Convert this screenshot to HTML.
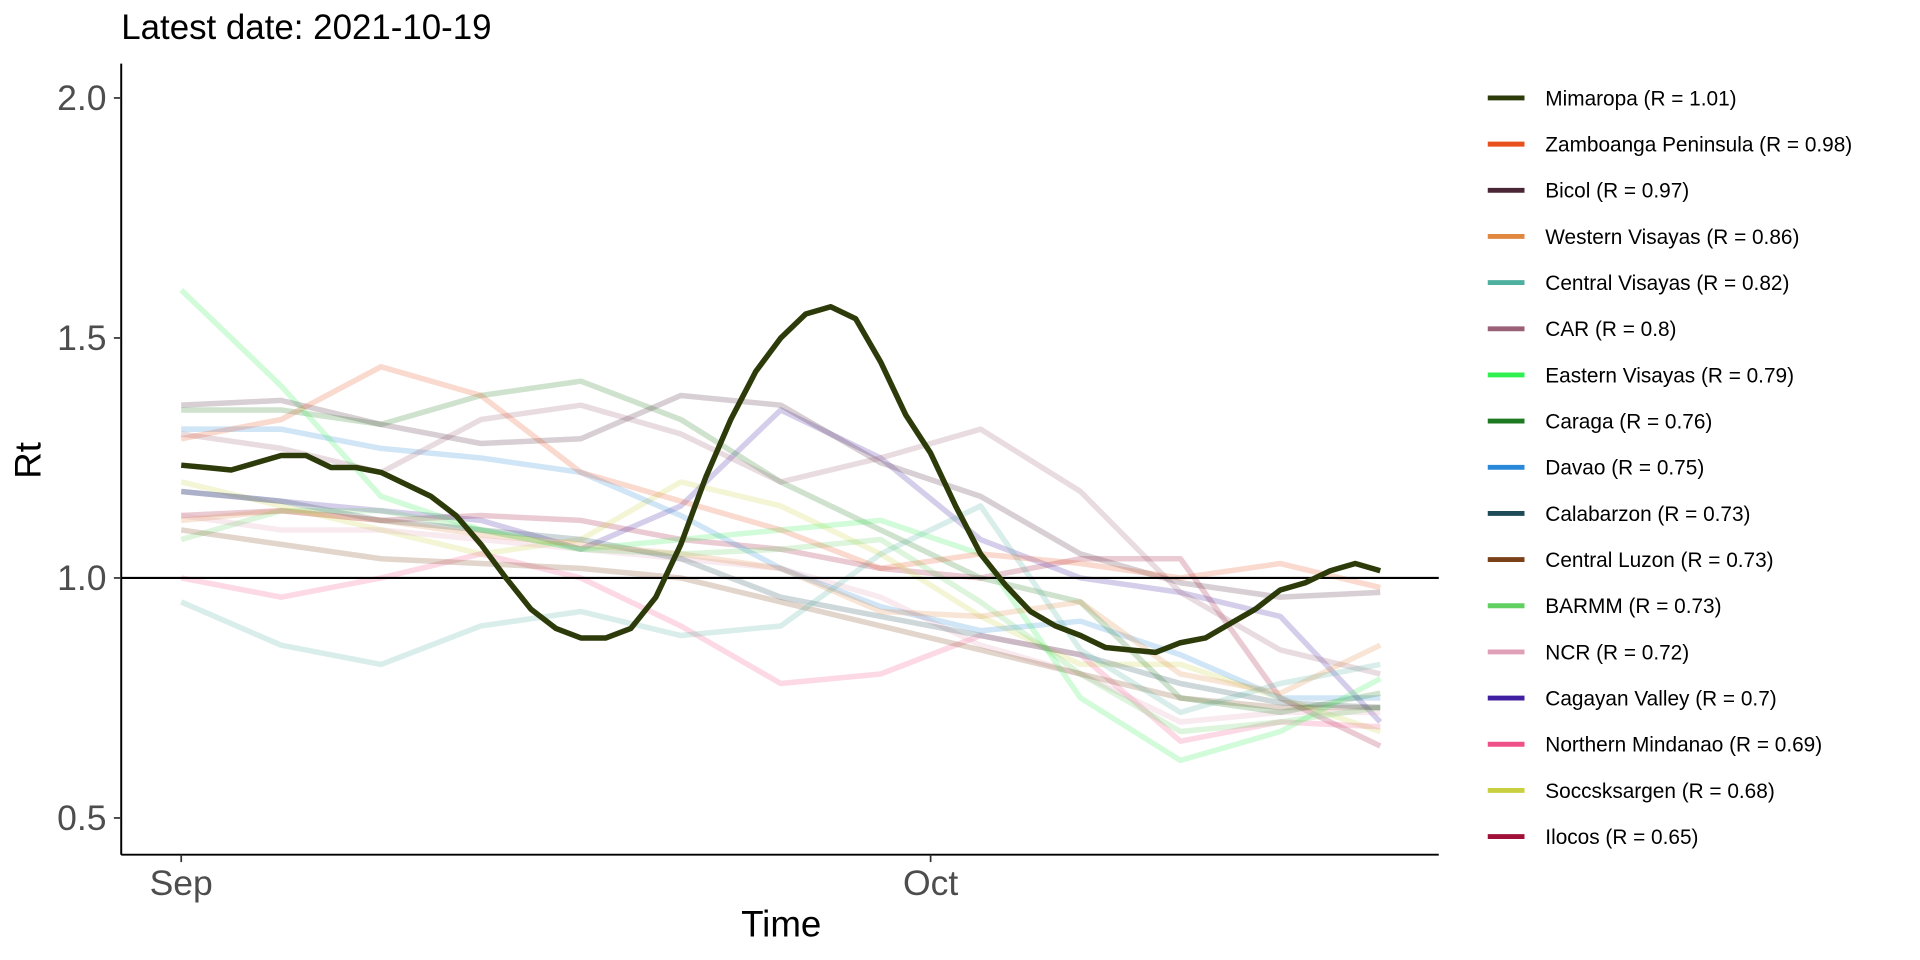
<!DOCTYPE html>
<html><head><meta charset="utf-8"><style>
html,body{margin:0;padding:0;background:#fff;}
svg{display:block;font-family:"Liberation Sans",Arial,sans-serif;}
</style></head><body>
<svg id="chart" width="1920" height="960" viewBox="0 0 1568 784" xmlns="http://www.w3.org/2000/svg">
<text x="99" y="32" font-size="28.5" fill="#000">Latest date: 2021-10-19</text>
<g id="plot"></g>
<g id="legend"></g>
</svg>
<script>
const NS="http://www.w3.org/2000/svg";
const yTicks=[0.5,1.0,1.5,2.0];
const xTickLabels=["Sep","Oct"];
const xTickDays=[0,30];
const sparseDays=[0,4,8,12,16,20,24,28,32,36,40,44,48];
const mimaropa=[1.235,1.23,1.225,1.24,1.255,1.255,1.23,1.23,1.22,1.195,1.17,1.13,1.07,1.0,0.935,0.895,0.875,0.875,0.895,0.96,1.07,1.21,1.33,1.43,1.5,1.55,1.565,1.54,1.45,1.34,1.26,1.15,1.05,0.985,0.93,0.9,0.88,0.855,0.85,0.845,0.865,0.875,0.905,0.935,0.975,0.99,1.015,1.03,1.015];
const seriesNames=["Mimaropa (R = 1.01)","Zamboanga Peninsula (R = 0.98)","Bicol (R = 0.97)","Western Visayas (R = 0.86)","Central Visayas (R = 0.82)","CAR (R = 0.8)","Eastern Visayas (R = 0.79)","Caraga (R = 0.76)","Davao (R = 0.75)","Calabarzon (R = 0.73)","Central Luzon (R = 0.73)","BARMM (R = 0.73)","NCR (R = 0.72)","Cagayan Valley (R = 0.7)","Northern Mindanao (R = 0.69)","Soccsksargen (R = 0.68)","Ilocos (R = 0.65)"];
const seriesColors=["#2d3a0a","#e8501e","#4a2535","#e08840","#50b0a0","#9a6078","#30f050","#1e7a20","#2a88d8","#1e4a58","#7a4018","#60d060","#e0a0b8","#4020a0","#f05088","#c8d040","#a01038"];
const zamboanga=[1.29,1.33,1.44,1.38,1.22,1.16,1.10,1.02,1.05,1.03,1.0,1.03,0.98];
const bicol=[1.36,1.37,1.32,1.28,1.29,1.38,1.36,1.24,1.17,1.05,0.99,0.96,0.97];
const westernVisayas=[1.12,1.14,1.12,1.09,1.07,1.05,1.02,0.93,0.92,0.95,0.80,0.76,0.86];
const centralVisayas=[0.95,0.86,0.82,0.90,0.93,0.88,0.90,1.05,1.15,0.85,0.72,0.78,0.82];
const car=[1.30,1.27,1.22,1.33,1.36,1.30,1.20,1.25,1.31,1.18,0.97,0.85,0.80];
const easternVisayas=[1.60,1.40,1.17,1.10,1.06,1.08,1.10,1.12,1.05,0.75,0.62,0.68,0.79];
const caraga=[1.35,1.35,1.32,1.38,1.41,1.33,1.20,1.10,1.00,0.95,0.75,0.72,0.76];
const davao=[1.31,1.31,1.27,1.25,1.22,1.13,1.02,0.94,0.89,0.91,0.84,0.75,0.75];
const calabarzon=[1.18,1.16,1.12,1.10,1.08,1.04,0.96,0.92,0.88,0.84,0.78,0.74,0.73];
const centralLuzon=[1.10,1.07,1.04,1.03,1.02,1.00,0.95,0.90,0.85,0.80,0.75,0.73,0.73];
const barmm=[1.08,1.14,1.14,1.10,1.06,1.05,1.06,1.08,0.95,0.80,0.68,0.70,0.73];
const ncr=[1.13,1.10,1.10,1.08,1.06,1.04,1.02,0.96,0.86,0.80,0.70,0.72,0.72];
const cagayanValley=[1.18,1.16,1.14,1.12,1.06,1.15,1.35,1.25,1.08,1.00,0.97,0.92,0.70];
const northernMindanao=[1.00,0.96,1.00,1.05,1.00,0.90,0.78,0.80,0.88,0.84,0.66,0.70,0.69];
const soccsksargen=[1.20,1.15,1.10,1.05,1.08,1.20,1.15,1.05,0.92,0.82,0.82,0.75,0.68];
const ilocos=[1.13,1.14,1.12,1.13,1.12,1.08,1.06,1.02,1.00,1.04,1.04,0.75,0.65];
const fadedSeries=[zamboanga,bicol,westernVisayas,centralVisayas,car,easternVisayas,caraga,davao,calabarzon,centralLuzon,barmm,ncr,cagayanValley,northernMindanao,soccsksargen,ilocos];

const X0=148,PXD=20.4,Y1=472,PXU=392;
const xs=d=>X0+d*PXD;
const ys=v=>Y1-(v-1)*PXU;
const plot=document.getElementById('plot');
const legend=document.getElementById('legend');
function mk(tag,attrs,parent){const e=document.createElementNS(NS,tag);for(const k in attrs)e.setAttribute(k,attrs[k]);parent.appendChild(e);return e;}

for(let i=fadedSeries.length-1;i>=0;i--){
  const vals=fadedSeries[i];
  const pts=vals.map((v,j)=>xs(sparseDays[j]).toFixed(1)+","+ys(v).toFixed(1)).join(" ");
  const pl=mk('polyline',{points:pts,fill:"none",stroke:seriesColors[i+1],"stroke-width":4.5,"stroke-opacity":0.22,"stroke-linejoin":"round"},plot);
  
  
}
const ref=mk('line',{x1:99,x2:1175,y1:ys(1),y2:ys(1),stroke:"#000","stroke-width":1.8},plot);


const mp=mk('polyline',{points:mimaropa.map((v,d)=>xs(d).toFixed(1)+","+ys(v).toFixed(1)).join(" "),fill:"none",stroke:seriesColors[0],"stroke-width":4.5,"stroke-linejoin":"round"},plot);



const ya=mk('line',{x1:99,x2:99,y1:52,y2:698,stroke:"#000","stroke-width":1.6},plot);


const xa=mk('line',{x1:99,x2:1175,y1:698,y2:698,stroke:"#000","stroke-width":1.6},plot);


yTicks.forEach(v=>{
  const t=mk('line',{x1:93,x2:99,y1:ys(v),y2:ys(v),stroke:"#333","stroke-width":1.4},plot);
  
  
  const l=mk('text',{x:87,y:ys(v)+10,"text-anchor":"end","font-size":29,fill:"#4d4d4d"},plot);
  l.textContent=v.toFixed(1);
  
  
});
xTickDays.forEach((d,i)=>{
  const t=mk('line',{x1:xs(d),x2:xs(d),y1:698,y2:704,stroke:"#333","stroke-width":1.4},plot);
  
  
  const l=mk('text',{x:xs(d),y:731,"text-anchor":"middle","font-size":29,fill:"#4d4d4d"},plot);
  l.textContent=xTickLabels[i];
  
  
});
const xt=mk('text',{x:638,y:765,"text-anchor":"middle","font-size":30,fill:"#000"},plot);
xt.textContent="Time";


const yt=mk('text',{x:0,y:0,"text-anchor":"middle","font-size":30,fill:"#000",transform:"translate(33,376) rotate(-90)"},plot);
yt.textContent="Rt";



seriesNames.forEach((n,i)=>{
  const y=80+i*37.7;
  const g=mk('g',{},legend);
  
  
  mk('line',{x1:1215,x2:1245,y1:y,y2:y,stroke:seriesColors[i],"stroke-width":4},g);
  const t=mk('text',{x:1262,y:y+6,"font-size":17,fill:"#000"},g);
  t.textContent=n;
});
</script>
</body></html>
